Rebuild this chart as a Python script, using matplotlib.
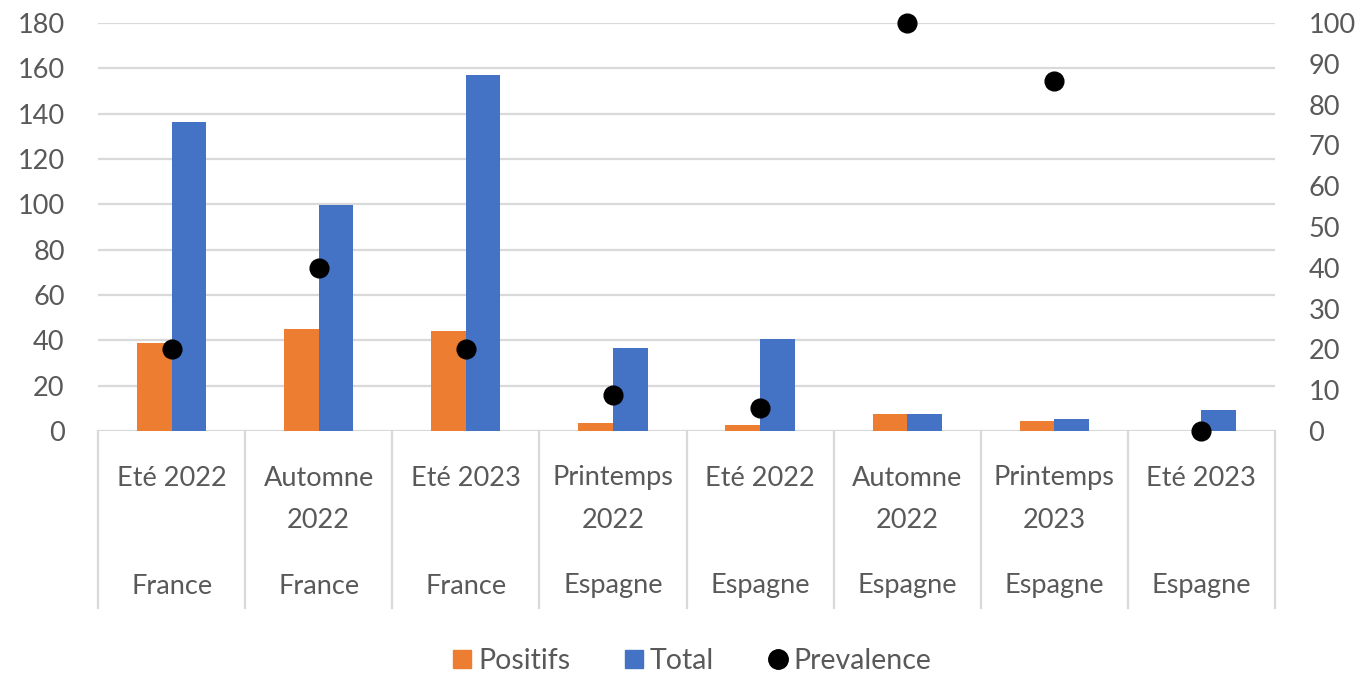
import matplotlib
matplotlib.use("Agg")
import matplotlib.pyplot as plt
from matplotlib.lines import Line2D
from matplotlib.transforms import blended_transform_factory

plt.rcParams['font.family'] = ['Lato', 'DejaVu Sans']

seasons = ["Eté 2022", "Automne\n2022", "Eté 2023", "Printemps\n2022",
           "Eté 2022", "Automne\n2022", "Printemps\n2023", "Eté 2023"]
countries = ["France", "France", "France", "Espagne",
             "Espagne", "Espagne", "Espagne", "Espagne"]
positifs = [39, 45, 44, 3.5, 2.6, 7.5, 4.3, 0]
total = [136.5, 99.5, 157, 36.7, 40.8, 7.5, 5.2, 9.3]
prevalence = [20, 40, 20, 8.8, 5.7, 100, 85.7, 0]
left_ticks = [0, 20, 40, 60, 80, 100, 120, 140, 160, 180]
right_ticks = [0, 10, 20, 30, 40, 50, 60, 70, 80, 90, 100]

ORANGE = "#ED7D31"
BLUE = "#4472C4"
GRID = "#D9D9D9"
TXT = "#595959"
FS = 19.5

W, H = 1363, 673
fig = plt.figure(figsize=(W / 100, H / 100), dpi=100)
L, R, T, B = 98, 1275, 23, 431
ax = fig.add_axes([L / W, 1 - B / H, (R - L) / W, (B - T) / H])

x = list(range(len(seasons)))
bw = 0.235
ax.bar([i - bw / 2 for i in x], positifs, width=bw, color=ORANGE, zorder=3, label="Positifs")
ax.bar([i + bw / 2 for i in x], total, width=bw, color=BLUE, zorder=3, label="Total")
ax.set_xlim(-0.5, len(x) - 0.5)
ax.set_ylim(0, 180)
ax.set_yticks(left_ticks)
ax.yaxis.grid(True, color=GRID, linewidth=1.6, zorder=0)
ax.set_axisbelow(True)
ax.tick_params(axis='y', length=0, pad=24, labelsize=FS, labelcolor=TXT)
ax.set_xticks([])
for s in ax.spines.values():
    s.set_visible(False)

ax2 = ax.twinx()
ax2.set_ylim(0, 100)
ax2.set_yticks(right_ticks)
ax2.tick_params(axis='y', length=0, pad=24, labelsize=FS, labelcolor=TXT)
for s in ax2.spines.values():
    s.set_visible(False)
ax2.plot(x, prevalence, linestyle='none', marker='o', markersize=13.5,
         color='black', clip_on=False, zorder=5)

# hierarchical category axis
tr = blended_transform_factory(ax.transData, ax.transAxes)
h = B - T
y_bot = (B - 608) / h
for i in range(len(x) + 1):
    ax.plot([i - 0.5, i - 0.5], [0, y_bot], color=GRID, linewidth=1.6,
            transform=tr, clip_on=False, zorder=1)
line_ys = [(B - 478) / h, (B - 520) / h]
y_country = (B - 586) / h
for i, (s, c) in enumerate(zip(seasons, countries)):
    for j, part in enumerate(s.split("\n")):
        ax.text(i, line_ys[j], part, transform=tr, ha='center', va='center',
                fontsize=FS, color=TXT)
    ax.text(i, y_country, c, transform=tr, ha='center', va='center',
            fontsize=FS, color=TXT)

handles = [
    Line2D([], [], linestyle='none', marker='s', markersize=13, color=ORANGE),
    Line2D([], [], linestyle='none', marker='s', markersize=13, color=BLUE),
    Line2D([], [], linestyle='none', marker='o', markersize=14, color='black'),
]
fig.legend(handles, ["Positifs", "Total", "Prevalence"], loc='center',
           bbox_to_anchor=(692 / W, 1 - 661 / H), ncol=3, frameon=False,
           fontsize=20.5, labelcolor=TXT, handlelength=0.7, handletextpad=0.2,
           columnspacing=1.9, borderpad=0)

fig.savefig("out.png", dpi=100)
